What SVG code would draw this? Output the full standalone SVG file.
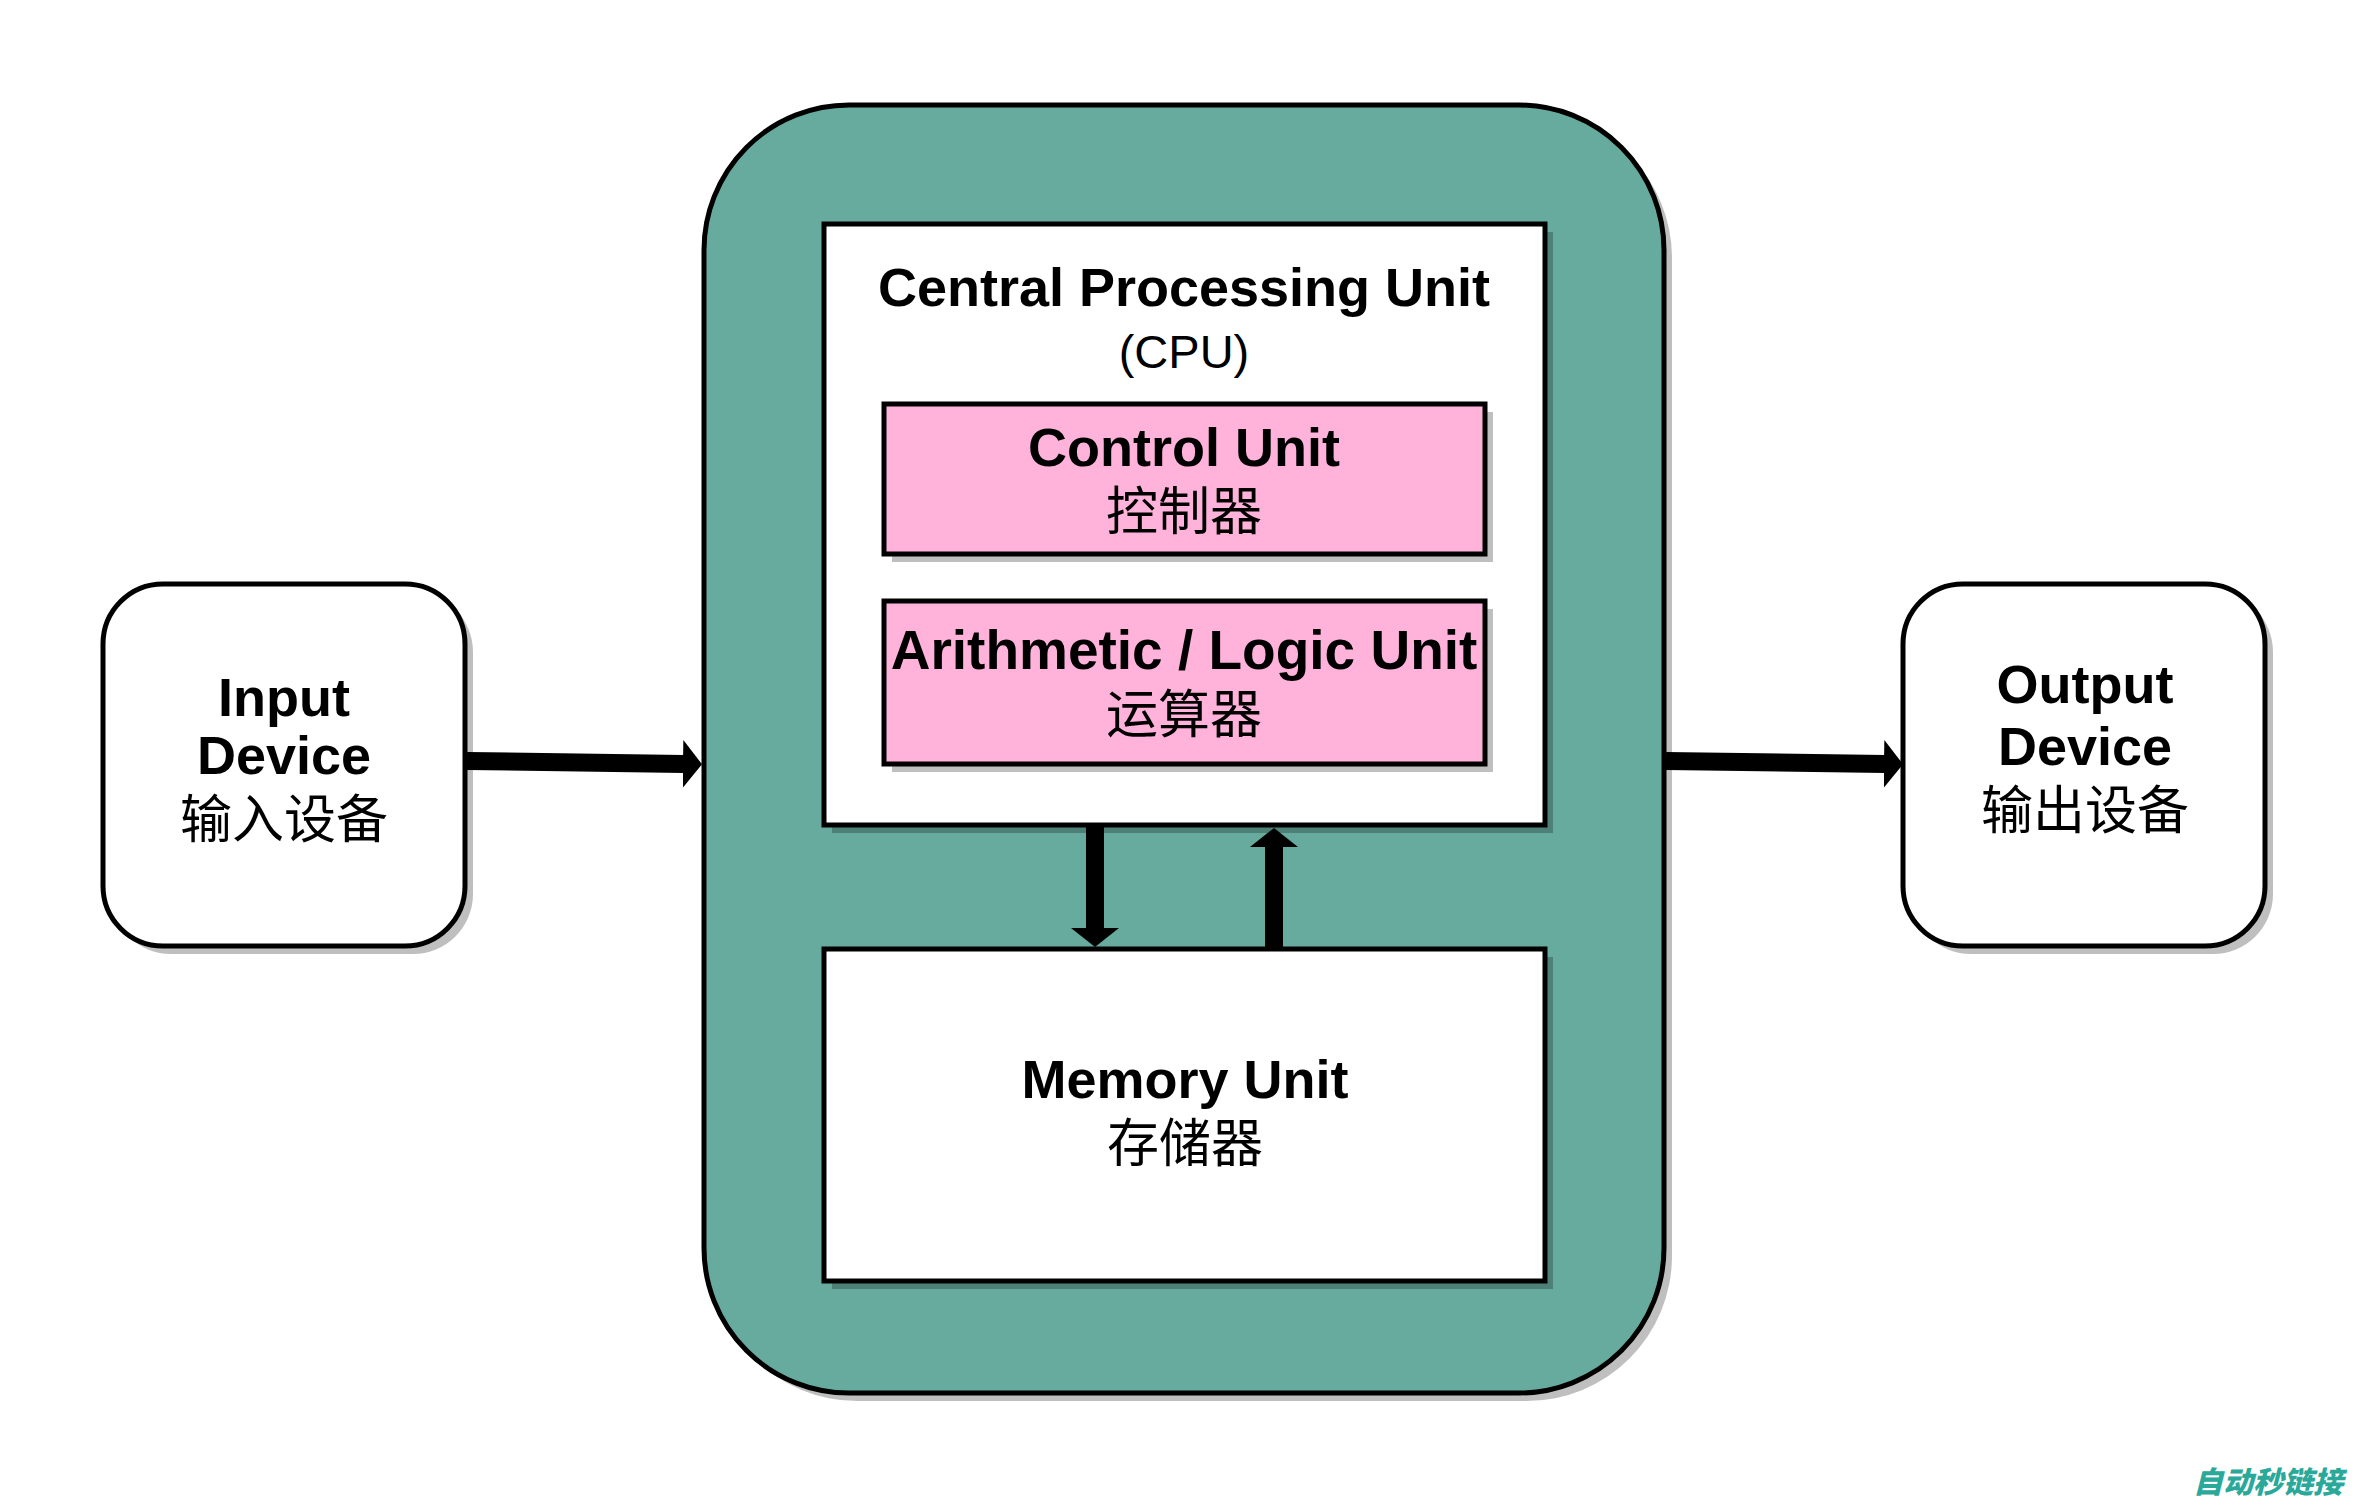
<svg xmlns="http://www.w3.org/2000/svg" width="2372" height="1505" viewBox="0 0 2372 1505">
<style>
.box{stroke:#000;stroke-width:5}
.sh{fill:#000;fill-opacity:0.25}
.en{font-family:"Liberation Sans",Arial,sans-serif;font-weight:bold;font-size:54px;text-anchor:middle;fill:#000}
.enr{font-family:"Liberation Sans",Arial,sans-serif;font-size:47px;text-anchor:middle;fill:#000}
.cn{font-family:"Noto Sans CJK SC",sans-serif;font-size:52px;text-anchor:middle;fill:#000}
.wm{font-family:"Noto Sans CJK SC",sans-serif;font-weight:900;font-style:italic;font-size:30px;fill:#2aa99a}
.conn{stroke:#000;stroke-width:18;fill:none}
</style>
<defs>
<marker id="ah" viewBox="0 -24 19 48" markerWidth="19" markerHeight="48" refX="1" refY="0" orient="auto" markerUnits="userSpaceOnUse">
<path d="M0,-24 L19,0 L0,24 Z" fill="#000"/>
</marker>
</defs>
<rect width="2372" height="1505" fill="#fff"/>

<g id="cpu-system">
<rect class="sh" x="712" y="113" width="960" height="1288" rx="145"/>
<rect class="box" x="704" y="105" width="960" height="1288" rx="145" fill="#67ab9f"/>
</g>

<g id="cpu">
<rect class="sh" x="832" y="232" width="721" height="601"/>
<rect class="box" x="824" y="224" width="721" height="601" fill="#fff"/>
<text class="en" x="1184" y="306">Central Processing Unit</text>
<text class="enr" x="1184" y="368">(CPU)</text>
</g>

<g id="control-unit">
<rect class="sh" x="892" y="412" width="601" height="150"/>
<rect class="box" x="884" y="404" width="601" height="150" fill="#ffb2da"/>
<text class="en" x="1184" y="466">Control Unit</text>
<text class="cn" x="1184" y="530">控制器</text>
</g>

<g id="alu">
<rect class="sh" x="892" y="609" width="601" height="163"/>
<rect class="box" x="884" y="601" width="601" height="163" fill="#ffb2da"/>
<text class="en" x="1184" y="669" style="font-size:55px">Arithmetic / Logic Unit</text>
<text class="cn" x="1184" y="733">运算器</text>
</g>

<g id="memory-unit">
<rect class="sh" x="832" y="957" width="721" height="332"/>
<rect class="box" x="824" y="949" width="721" height="332" fill="#fff"/>
<text class="en" x="1185" y="1098">Memory Unit</text>
<text class="cn" x="1185" y="1162">存储器</text>
</g>

<g id="input-device">
<rect class="sh" x="111" y="592" width="362" height="362" rx="60"/>
<rect class="box" x="103" y="584" width="362" height="362" rx="60" fill="#fff"/>
<text class="en" x="284" y="716">Input</text>
<text class="en" x="284" y="774">Device</text>
<text class="cn" x="284" y="838">输入设备</text>
</g>

<g id="output-device">
<rect class="sh" x="1911" y="592" width="362" height="362" rx="60"/>
<rect class="box" x="1903" y="584" width="362" height="362" rx="60" fill="#fff"/>
<text class="en" x="2085" y="703">Output</text>
<text class="en" x="2085" y="765">Device</text>
<text class="cn" x="2085" y="829">输出设备</text>
</g>

<g id="connectors">
<path class="conn" d="M467,761 L684,764" marker-end="url(#ah)"/>
<path class="conn" d="M1666,761 L1885,764" marker-end="url(#ah)"/>
<path class="conn" d="M1095,827 L1095,929" marker-end="url(#ah)"/>
<path class="conn" d="M1274,947 L1274,846" marker-end="url(#ah)"/>
</g>

<text class="wm" x="2193" y="1493">自动秒链接</text>
</svg>
